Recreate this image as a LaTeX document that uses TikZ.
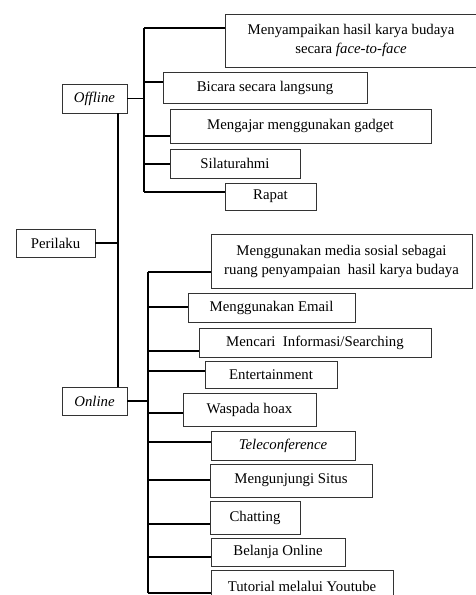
\documentclass[tikz,border=0pt]{standalone}
\usepackage{fontspec}
\setmainfont{Liberation Serif}
\usepackage{tikz}
\usetikzlibrary{calc}
\tikzset{box/.style = {draw = black!80, line width = 0.9pt, inner sep = 0pt, align = center, font = \fontsize{14.8}{19}\selectfont},
conn/.style = {line width = 1.4pt}}

\begin{document}
\begin{tikzpicture}[x = 1pt, y = -1pt]
\useasboundingbox (0,0) rectangle (475,595);
% main level
\node[box, minimum width = 79, minimum height = 28] (perilaku) at (55.5, 243) {Perilaku};
\node[box, minimum width = 65, minimum height = 29] (offline) at (94.5, 98.5) {\textit{Offline}};
\node[box, minimum width = 65, minimum height = 28] (online) at (94.5, 401) {\textit{Online}};
\coordinate (mtop) at (118, 113);
\coordinate (mbot) at (118, 387);
\draw[conn] (mtop) -- (mbot);
\draw[conn] (perilaku.east) -- (perilaku.east -| mtop);
% offline
\node[box, minimum width = 252, minimum height = 53] (f1) at (351, 40.5) {Menyampaikan hasil karya budaya\\secara \textit{face-to-face}};
\node[box, minimum width = 204, minimum height = 31] (f2) at (265, 87.5) {Bicara secara langsung};
\node[box, minimum width = 261, minimum height = 34] (f3) at (300.5, 126) {Mengajar menggunakan gadget};
\node[box, minimum width = 130, minimum height = 29] (f4) at (235, 163.5) {Silaturahmi};
\node[box, minimum width = 91, minimum height = 27] (f5) at (270.5, 196.5) {Rapat};
\coordinate (jf1) at (144, 28);
\coordinate (jf2) at (144, 82);
\coordinate (jf3) at (144, 136);
\coordinate (jf4) at (144, 164);
\coordinate (jf5) at (144, 192);
\draw[conn] (jf1) -- (jf5);
\draw[conn] (offline.east) -- (offline.east -| jf1);
\draw[conn] (jf1) -- (jf1 -| f1.west);
\draw[conn] (jf2) -- (jf2 -| f2.west);
\draw[conn] (jf3) -- (jf3 -| f3.west);
\draw[conn] (jf4) -- (jf4 -| f4.west);
\draw[conn] (jf5) -- (jf5 -| f5.west);
% online
\node[box, minimum width = 261, minimum height = 54] (n1) at (341.5, 261) {Menggunakan media sosial sebagai\\ruang penyampaian\ \ hasil karya budaya};
\node[box, minimum width = 167, minimum height = 29] (n2) at (271.5, 307.5) {Menggunakan Email};
\node[box, minimum width = 232, minimum height = 29] (n3) at (315, 342.5) {Mencari\ \ Informasi/Searching};
\node[box, minimum width = 132, minimum height = 27] (n4) at (271, 374.5) {Entertainment};
\node[box, minimum width = 133, minimum height = 33] (n5) at (249.5, 409.5) {Waspada hoax};
\node[box, minimum width = 144, minimum height = 29] (n6) at (283, 445.5) {\textit{Teleconference}};
\node[box, minimum width = 162, minimum height = 33] (n7) at (291, 480.5) {Mengunjungi Situs};
\node[box, minimum width = 90, minimum height = 33] (n8) at (255, 517.5) {Chatting};
\node[box, minimum width = 134, minimum height = 28] (n9) at (278, 552) {Belanja Online};
\node[box, minimum width = 182, minimum height = 32] (n10) at (302, 586) {Tutorial melalui Youtube};
\coordinate (jn1) at (148, 272);
\coordinate (jn2) at (148, 307);
\coordinate (jn3) at (148, 351);
\coordinate (jn4) at (148, 371);
\coordinate (jn5) at (148, 413);
\coordinate (jn6) at (148, 442);
\coordinate (jn7) at (148, 480);
\coordinate (jn8) at (148, 524);
\coordinate (jn9) at (148, 557);
\coordinate (jn10) at (148, 593);
\draw[conn] (jn1) -- (jn10);
\draw[conn] (online.east) -- (online.east -| jn1);
\draw[conn] (jn1) -- (jn1 -| n1.west);
\draw[conn] (jn2) -- (jn2 -| n2.west);
\draw[conn] (jn3) -- (jn3 -| n3.west);
\draw[conn] (jn4) -- (jn4 -| n4.west);
\draw[conn] (jn5) -- (jn5 -| n5.west);
\draw[conn] (jn6) -- (jn6 -| n6.west);
\draw[conn] (jn7) -- (jn7 -| n7.west);
\draw[conn] (jn8) -- (jn8 -| n8.west);
\draw[conn] (jn9) -- (jn9 -| n9.west);
\draw[conn] (jn10) -- (jn10 -| n10.west);
\end{tikzpicture}
\end{document}
